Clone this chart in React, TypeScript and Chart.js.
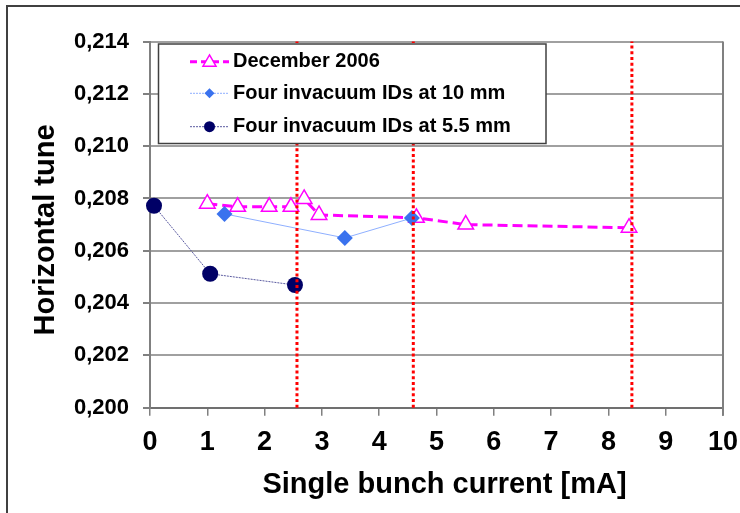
import React, { useEffect, useRef } from "react";
import { Chart, registerables } from "chart.js";

Chart.register(...registerables);

// ---- data ----
const Y_TICKS = [0.2, 0.202, 0.204, 0.206, 0.208, 0.21, 0.212, 0.214];
const X_MIN = 0;
const X_MAX = 10;

const dec2006X = [1.0, 1.53, 2.08, 2.46, 2.69, 2.95, 4.65, 5.51, 8.36];
const dec2006Y = [0.2078, 0.20768, 0.20768, 0.20768, 0.20798, 0.20737, 0.20726, 0.207, 0.20688];

const ids10mmX = [1.3, 3.4, 4.57];
const ids10mmY = [0.20741, 0.20649, 0.20725];

const ids55mmX = [0.07, 1.05, 2.53];
const ids55mmY = [0.20772, 0.20512, 0.20469];

const redLinesX = [2.565, 4.595, 8.41];

const LABELS = ["December 2006", "Four invacuum IDs at 10 mm", "Four invacuum IDs at 5.5 mm"];
const X_TITLE = "Single bunch current [mA]";
const Y_TITLE = "Horizontal tune";

const FONT = '"Liberation Sans", Arial, Helvetica, sans-serif';

const MAGENTA = "#ff00ff";
const BLUE = "#3a72ee";
const BLUE_LINE = "#8fb0ff";
const NAVY = "#000066";
const NAVY_LINE = "#5a5aa0";

const zip = (xs: number[], ys: number[]) => xs.map((x, i) => ({ x, y: ys[i] }));

const framePlugin = {
  id: "frame",
  beforeDraw(chart: any) {
    const ctx = chart.ctx;
    ctx.save();
    ctx.fillStyle = "#ffffff";
    ctx.fillRect(0, 0, chart.width, chart.height);
    ctx.strokeStyle = "#404040";
    ctx.lineWidth = 2;
    ctx.strokeRect(7, 6, chart.width + 20, chart.height + 20);
    ctx.restore();
  },
  afterDraw(chart: any) {
    const ctx = chart.ctx;
    const a = chart.chartArea;
    ctx.save();
    ctx.strokeStyle = "#808080";
    ctx.lineWidth = 2;
    ctx.beginPath();
    ctx.moveTo(a.right, a.top);
    ctx.lineTo(a.right, a.bottom + 8);
    ctx.stroke();
    ctx.fillStyle = "#000";
    ctx.font = `bold 29px ${FONT}`;
    ctx.textAlign = "center";
    ctx.textBaseline = "middle";
    ctx.fillText(X_TITLE, 444.5, 485);
    ctx.translate(46, 230);
    ctx.rotate(-Math.PI / 2);
    ctx.fillText(Y_TITLE, 0, 0);
    ctx.restore();
  },
};

const legendPlugin = {
  id: "customLegend",
  afterDatasetsDraw(chart: any) {
    const ctx = chart.ctx;
    ctx.save();
    const bx = 158.5, by = 44, bw = 387.5, bh = 99.5;
    ctx.fillStyle = "#ffffff";
    ctx.fillRect(bx, by, bw, bh);
    ctx.strokeStyle = "#404040";
    ctx.lineWidth = 1.5;
    ctx.strokeRect(bx, by, bw, bh);

    const rows = [61.7, 93.3, 126.7];
    const x0 = 190, x1 = 229, cx = 209.5;

    let y = rows[0];
    ctx.strokeStyle = MAGENTA;
    ctx.lineWidth = 3;
    ctx.setLineDash([7, 4]);
    ctx.beginPath();
    ctx.moveTo(x0, y);
    ctx.lineTo(x1, y);
    ctx.stroke();
    ctx.setLineDash([]);
    const r = 7.5;
    ctx.beginPath();
    ctx.moveTo(cx, y - r * 0.9);
    ctx.lineTo(cx + r * 0.87, y + r * 0.6);
    ctx.lineTo(cx - r * 0.87, y + r * 0.6);
    ctx.closePath();
    ctx.fillStyle = "#fff";
    ctx.fill();
    ctx.lineWidth = 1.5;
    ctx.stroke();

    y = rows[1];
    ctx.strokeStyle = BLUE_LINE;
    ctx.lineWidth = 1;
    ctx.setLineDash([2, 1]);
    ctx.beginPath();
    ctx.moveTo(x0, y);
    ctx.lineTo(x1, y);
    ctx.stroke();
    ctx.setLineDash([]);
    ctx.fillStyle = BLUE;
    ctx.beginPath();
    ctx.moveTo(cx - 5, y);
    ctx.lineTo(cx, y - 5);
    ctx.lineTo(cx + 5, y);
    ctx.lineTo(cx, y + 5);
    ctx.closePath();
    ctx.fill();

    y = rows[2];
    ctx.strokeStyle = NAVY_LINE;
    ctx.lineWidth = 1;
    ctx.setLineDash([2, 1]);
    ctx.beginPath();
    ctx.moveTo(x0, y);
    ctx.lineTo(x1, y);
    ctx.stroke();
    ctx.setLineDash([]);
    ctx.fillStyle = NAVY;
    ctx.beginPath();
    ctx.arc(cx, y, 5.5, 0, Math.PI * 2);
    ctx.fill();

    ctx.fillStyle = "#000";
    ctx.font = `bold 20px ${FONT}`;
    ctx.textAlign = "left";
    ctx.textBaseline = "middle";
    LABELS.forEach((t, i) => ctx.fillText(t, 233, rows[i]));
    ctx.restore();
  },
};

export default function App() {
  const ref = useRef<HTMLCanvasElement>(null);

  useEffect(() => {
    if (!ref.current) return;
    const redSets = redLinesX.map((x) => ({
      label: "",
      data: [
        { x, y: Y_TICKS[0] },
        { x, y: Y_TICKS[Y_TICKS.length - 1] },
      ],
      showLine: true,
      borderColor: "#ff0000",
      borderWidth: 3,
      borderDash: [3, 2.7],
      pointRadius: 0,
      fill: false,
    }));

    const chart = new Chart(ref.current, {
      type: "scatter",
      data: {
        datasets: [
          ...redSets,
          {
            label: LABELS[2],
            data: zip(ids55mmX, ids55mmY),
            showLine: true,
            borderColor: NAVY_LINE,
            borderWidth: 1,
            borderDash: [2, 1],
            pointStyle: "circle",
            pointRadius: 8,
            pointBackgroundColor: NAVY,
            pointBorderColor: NAVY,
            pointBorderWidth: 0,
            tension: 0,
          },
          {
            label: LABELS[1],
            data: zip(ids10mmX, ids10mmY),
            showLine: true,
            borderColor: BLUE_LINE,
            borderWidth: 1,
            pointStyle: "rectRot",
            pointRadius: 8,
            pointBackgroundColor: BLUE,
            pointBorderColor: BLUE,
            pointBorderWidth: 0,
            tension: 0,
          },
          {
            label: LABELS[0],
            data: zip(dec2006X, dec2006Y),
            showLine: true,
            borderColor: MAGENTA,
            borderWidth: 3,
            borderDash: [10, 5],
            pointStyle: "triangle",
            pointRadius: 9,
            pointBackgroundColor: "#ffffff",
            pointBorderColor: MAGENTA,
            pointBorderWidth: 1.5,
            tension: 0,
          },
        ] as any,
      },
      options: {
        animation: false,
        responsive: false,
        events: [],
        clip: false as any,
        layout: { padding: { left: 0, top: 41.5, right: 17, bottom: 0 } },
        plugins: {
          legend: { display: false },
          tooltip: { enabled: false },
          title: { display: false },
        },
        scales: {
          x: {
            type: "linear",
            min: X_MIN,
            max: X_MAX,
            afterFit: (s: any) => {
              s.height = 105.3;
              s.paddingLeft = 0;
              s.paddingRight = 0;
            },
            ticks: {
              stepSize: 1,
              color: "#000",
              padding: 11,
              font: { family: FONT, size: 27, weight: "bold", lineHeight: 1.2 },
              maxRotation: 0,
              autoSkip: false,
            },
            grid: {
              drawOnChartArea: false,
              tickLength: 8,
              color: "#808080",
              lineWidth: 1.5,
            },
            border: { color: "#707070", width: 2 },
          },
          y: {
            type: "linear",
            min: Y_TICKS[0],
            max: Y_TICKS[Y_TICKS.length - 1],
            afterFit: (s: any) => {
              s.width = 150;
              s.paddingTop = 0;
              s.paddingBottom = 0;
            },
            afterBuildTicks: (s: any) => {
              s.ticks = Y_TICKS.map((v) => ({ value: v }));
            },
            ticks: {
              color: "#000",
              padding: 14,
              font: { family: FONT, size: 22, weight: "bold" },
              callback: (v: any) => Number(v).toFixed(3).replace(".", ","),
            },
            grid: {
              color: "#a0a0a0",
              lineWidth: 2,
              tickLength: 7,
              tickColor: "#808080",
            },
            border: { color: "#808080", width: 2 },
          },
        },
      } as any,
      plugins: [framePlugin, legendPlugin],
    });
    return () => chart.destroy();
  }, []);

  return (
    <div style={{ position: "absolute", left: 0, top: 0, width: 740, height: 513 }}>
      <canvas ref={ref} width={740} height={513} style={{ display: "block" }} />
    </div>
  );
}
